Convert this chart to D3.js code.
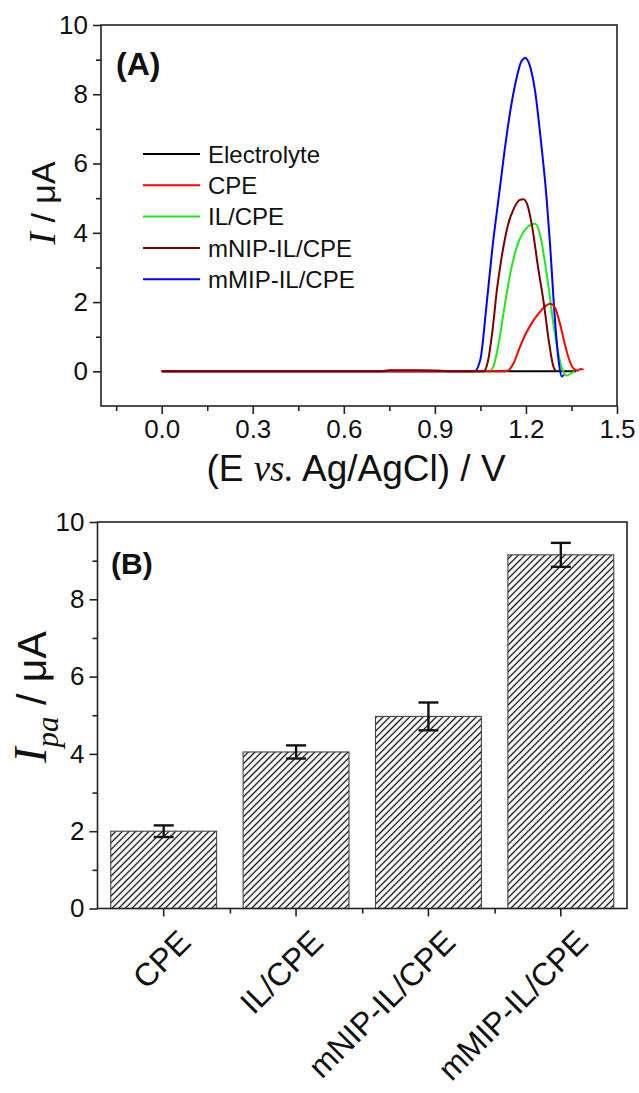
<!DOCTYPE html>
<html><head><meta charset="utf-8">
<script src="https://cdn.jsdelivr.net/npm/d3@7"></script>
<style>
body{margin:0;background:#fff}
svg{display:block}
text{font-family:"Liberation Sans",Arial,sans-serif;fill:#111}
</style>
</head><body>
<svg id="c" width="639" height="1093"></svg>
<script>
// ---------- Panel A data: [E (V), I (µA)] ----------
const seriesNames = ["Electrolyte","CPE","IL/CPE","mNIP-IL/CPE","mMIP-IL/CPE"];
const electrolyte = [[0,0],[0.5,0],[1.0,0],[1.365,0]];
const cpe = [[0,0],[0.5,0],[1.0,0],[1.12,0],[1.14,0.02],[1.16,0.25],[1.18,0.7],[1.2,1.1],[1.22,1.4],[1.24,1.65],[1.26,1.85],[1.28,1.95],[1.295,1.85],[1.31,1.45],[1.325,0.9],[1.34,0.4],[1.355,0.1],[1.37,0.02],[1.38,0.07],[1.39,0.05]];
const ilcpe = [[0,0],[0.5,0],[0.72,0],[0.76,0.02],[0.9,0.02],[0.95,0],[1.08,0],[1.095,0.2],[1.11,0.8],[1.13,1.9],[1.15,2.9],[1.17,3.6],[1.19,4.0],[1.21,4.2],[1.23,4.26],[1.245,4.0],[1.26,3.3],[1.275,2.4],[1.29,1.4],[1.305,0.6],[1.32,0.05],[1.335,-0.12],[1.35,-0.05],[1.36,0]];
const mnip = [[0,0],[0.5,0],[0.72,0],[0.75,0.03],[0.85,0.03],[0.92,0.02],[0.95,0],[1.06,0],[1.075,0.3],[1.09,1.2],[1.105,2.4],[1.12,3.3],[1.14,4.2],[1.16,4.7],[1.18,4.95],[1.192,4.97],[1.205,4.8],[1.22,4.2],[1.24,3.0],[1.26,1.9],[1.275,0.9],[1.29,0.15],[1.3,0]];
const mmip = [[0,0],[0.5,0],[1.0,0],[1.03,0],[1.05,0.35],[1.07,1.9],[1.09,3.6],[1.11,5.0],[1.13,6.4],[1.15,7.6],[1.17,8.5],[1.185,8.95],[1.198,9.05],[1.21,8.9],[1.23,8.1],[1.25,6.6],[1.268,5.0],[1.28,3.6],[1.29,2.2],[1.3,1.0],[1.31,0.15],[1.318,-0.15],[1.325,-0.1]];
const xTicksA = [0,0.3,0.6,0.9,1.2,1.5];
const xMinorA = [-0.15,0.15,0.45,0.75,1.05,1.35];
const yTicksA = [0,2,4,6,8,10];
const yMinorA = [1,3,5,7,9];

// ---------- Panel B data ----------
const barCategories = ["CPE","IL/CPE","mNIP-IL/CPE","mMIP-IL/CPE"];
const barValues = [2.0,4.05,4.97,9.15];
const barErrors = [0.15,0.17,0.36,0.31];
const yTicksB = [0,2,4,6,8,10];
const yMinorB = [1,3,5,7,9];

const svg = d3.select("#c");
const AX = "#222";

// ================= Panel A =================
const xA = d3.scaleLinear().domain([-0.2,1.5]).range([101,617]);
const yA = d3.scaleLinear().domain([-1,10]).range([406,25]);
const gA = svg.append("g");

function styleAxis(sel, fs){
  sel.select(".domain").remove();
  sel.selectAll("line").attr("stroke",AX).attr("stroke-width",1.6);
  sel.selectAll("text").attr("font-size",fs).attr("font-family","Liberation Sans, Arial, sans-serif").attr("fill","#111");
}

const seriesData = [electrolyte,cpe,ilcpe,mnip,mmip];
const seriesColors = ["#000000","#ff0000","#1ee81e","#7a0000","#0000ff"];
const drawOrder = [0,2,4,1,3];
const line = d3.line().x(d=>xA(d[0])).y(d=>yA(d[1])).curve(d3.curveMonotoneX);
drawOrder.forEach(i=>{
  gA.append("path").attr("d",line(seriesData[i])).attr("fill","none")
    .attr("stroke",seriesColors[i]).attr("stroke-width",2).attr("stroke-linejoin","round");
});

gA.append("g").attr("transform","translate(0,406)")
  .call(d3.axisBottom(xA).tickValues(xTicksA).tickSize(8).tickPadding(6).tickFormat(d3.format(".1f")))
  .call(s=>styleAxis(s,26));
gA.append("g").attr("transform","translate(0,406)")
  .call(d3.axisBottom(xA).tickValues(xMinorA).tickSize(5).tickFormat(""))
  .call(s=>styleAxis(s,26));
gA.append("g").attr("transform","translate(101,0)")
  .call(d3.axisLeft(yA).tickValues(yTicksA).tickSize(8).tickPadding(5))
  .call(s=>styleAxis(s,26));
gA.append("g").attr("transform","translate(101,0)")
  .call(d3.axisLeft(yA).tickValues(yMinorA).tickSize(5).tickFormat(""))
  .call(s=>styleAxis(s,26));
gA.append("rect").attr("x",101).attr("y",25).attr("width",516).attr("height",381)
  .attr("fill","none").attr("stroke",AX).attr("stroke-width",1.6);

// legend
seriesNames.forEach((n,i)=>{
  const yy = 154 + i*31.3;
  gA.append("line").attr("x1",143).attr("x2",200).attr("y1",yy).attr("y2",yy)
    .attr("stroke",seriesColors[i]).attr("stroke-width",2);
  gA.append("text").attr("x",208).attr("y",yy).attr("dy","0.36em").attr("font-size",24).text(n);
});

gA.append("text").attr("x",116).attr("y",75).attr("font-family","Open Sans, sans-serif")
  .attr("font-weight",700).attr("font-size",32).text("(A)");

const xtA = gA.append("text").attr("x",356).attr("y",481).attr("text-anchor","middle").attr("font-size",37);
xtA.append("tspan").text("(E ");
xtA.append("tspan").attr("font-family","Liberation Serif, serif").attr("font-style","italic").text("vs.");
xtA.append("tspan").text(" Ag/AgCl) / V");

const ytA = gA.append("text").attr("transform","translate(55,203) rotate(-90)").attr("text-anchor","middle");
ytA.append("tspan").attr("font-family","Liberation Serif, serif").attr("font-style","italic").attr("font-size",38).text("I");
ytA.append("tspan").attr("font-size",34).text(" / μA");

// ================= Panel B =================
const xB = d3.scaleBand().domain(barCategories).range([97.5,627]).paddingInner(0.2).paddingOuter(0.1);
const yB = d3.scaleLinear().domain([0,10]).range([908.5,522]);
const gB = svg.append("g");

const defs = svg.append("defs");
const pat = defs.append("pattern").attr("id","hatch").attr("patternUnits","userSpaceOnUse")
  .attr("width",4.7).attr("height",10).attr("patternTransform","rotate(45)");
pat.append("rect").attr("width",4.7).attr("height",10).attr("fill","#fff");
pat.append("line").attr("x1",2.35).attr("x2",2.35).attr("y1",0).attr("y2",10)
  .attr("stroke","#000").attr("stroke-width",1.25);

gB.selectAll("rect.bar").data(barCategories).join("rect").attr("class","bar")
  .attr("x",d=>xB(d)).attr("width",xB.bandwidth())
  .attr("y",(d,i)=>yB(barValues[i])).attr("height",(d,i)=>yB(0)-yB(barValues[i]))
  .attr("fill","url(#hatch)").attr("stroke","#444").attr("stroke-width",1.1);

barCategories.forEach((c,i)=>{
  const cx = xB(c)+xB.bandwidth()/2;
  const t = yB(barValues[i]+barErrors[i]), b = yB(barValues[i]-barErrors[i]);
  gB.append("line").attr("x1",cx).attr("x2",cx).attr("y1",t).attr("y2",b).attr("stroke","#111").attr("stroke-width",2.4);
  [t,b].forEach(yy=>gB.append("line").attr("x1",cx-10).attr("x2",cx+10).attr("y1",yy).attr("y2",yy).attr("stroke","#111").attr("stroke-width",2.4));
});

gB.append("g").attr("transform","translate(97.5,0)")
  .call(d3.axisLeft(yB).tickValues(yTicksB).tickSize(8).tickPadding(5))
  .call(s=>styleAxis(s,26));
gB.append("g").attr("transform","translate(97.5,0)")
  .call(d3.axisLeft(yB).tickValues(yMinorB).tickSize(5).tickFormat(""))
  .call(s=>styleAxis(s,26));
// category ticks (centres) and band boundary ticks
gB.append("g").attr("transform","translate(0,908.5)")
  .call(d3.axisBottom(xB).tickSize(8).tickFormat(""))
  .call(s=>styleAxis(s,26));
const bounds = [1,2,3].map(k=>97.5 + xB.step()*k);
gB.append("g").attr("transform","translate(0,908.5)")
  .call(d3.axisBottom(d3.scaleIdentity()).tickValues(bounds).tickSize(5).tickFormat(""))
  .call(s=>styleAxis(s,26));
gB.append("rect").attr("x",97.5).attr("y",522).attr("width",529.5).attr("height",386.5)
  .attr("fill","none").attr("stroke",AX).attr("stroke-width",1.6);

barCategories.forEach(c=>{
  const cx = xB(c)+xB.bandwidth()/2;
  gB.append("text").attr("transform",`translate(${cx+29},944) rotate(-45)`)
    .attr("text-anchor","end").attr("font-size",32).text(c);
});

gB.append("text").attr("x",111).attr("y",574).attr("font-family","Open Sans, sans-serif")
  .attr("font-weight",700).attr("font-size",30).text("(B)");

const ytB = gB.append("text").attr("transform","translate(46,697) rotate(-90)").attr("text-anchor","middle");
ytB.append("tspan").attr("font-family","Liberation Serif, serif").attr("font-style","italic").attr("font-size",46).text("I");
ytB.append("tspan").attr("font-family","Liberation Serif, serif").attr("font-style","italic").attr("font-size",31).attr("dy",12).text("pa");
ytB.append("tspan").attr("font-size",41).attr("dy",-12).text(" / μA");
</script>
</body></html>
